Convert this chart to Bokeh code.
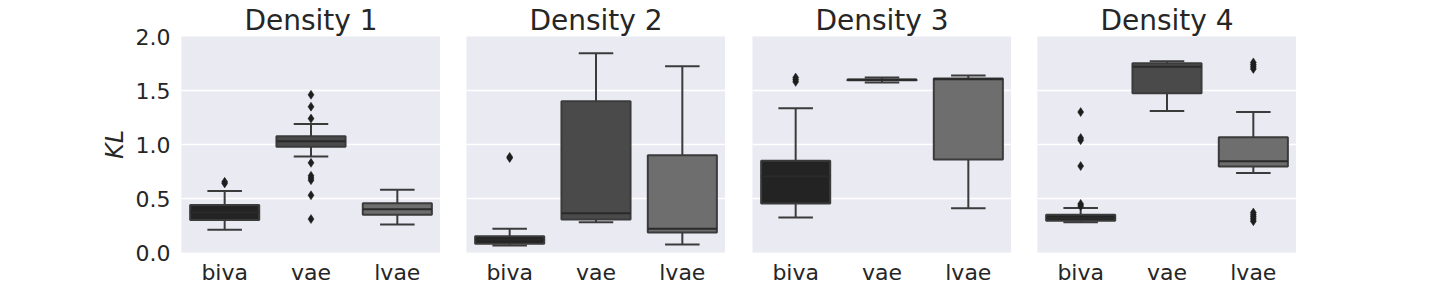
from bokeh.plotting import figure
from bokeh.layouts import row
from bokeh.models import Range1d, FixedTicker, ColumnDataSource
from bokeh.embed import file_html
from bokeh.resources import INLINE

# ---------------- data ----------------
categories = ["biva", "vae", "lvae"]
titles = ["Density 1", "Density 2", "Density 3", "Density 4"]
y_ticks = [0.0, 0.5, 1.0, 1.5, 2.0]
y_tick_labels = ["0.0", "0.5", "1.0", "1.5", "2.0"]

# box statistics per panel, per category (biva, vae, lvae)
q1 = [[0.30, 0.98, 0.35], [0.08, 0.305, 0.185], [0.454, 1.595, 0.861], [0.293, 1.475, 0.796]]
med = [[0.37, 1.03, 0.40], [0.117, 0.364, 0.22], [0.707, 1.600, 1.605], [0.32, 1.72, 0.845]]
q3 = [[0.44, 1.077, 0.456], [0.15, 1.40, 0.90], [0.85, 1.603, 1.611], [0.349, 1.753, 1.068]]
whis_lo = [[0.21, 0.89, 0.26], [0.065, 0.28, 0.074], [0.324, 1.575, 0.41], [0.28, 1.31, 0.735]]
whis_hi = [[0.57, 1.19, 0.58], [0.22, 1.845, 1.725], [1.336, 1.62, 1.64], [0.413, 1.77, 1.30]]
outliers = [
    [[0.64, 0.655], [1.46, 1.35, 1.24, 0.83, 0.71, 0.69, 0.67, 0.53, 0.31], []],
    [[0.875, 0.885], [], []],
    [[1.58, 1.60, 1.62], [], []],
    [[1.30, 1.04, 1.06, 0.80, 0.43, 0.45], [], [0.29, 0.31, 0.33, 0.35, 0.37, 1.70, 1.72, 1.74, 1.76]],
]

box_colors = ["#232323", "#4a4a4a", "#6e6e6e"]
line_color = "#3b3b3b"
text_color = "#262626"
bg = "#EAEAF2"

FRAME_W = 259
FRAME_H = 216
TOP = 36
BOTTOM = 36
left_borders = [181, 26, 27, 26]

figs = []
for i in range(4):
    lb = left_borders[i]
    p = figure(width=lb + FRAME_W, height=TOP + FRAME_H + BOTTOM,
               x_range=Range1d(0, 3), y_range=Range1d(0, 2),
               output_backend="svg", toolbar_location=None,
               min_border_left=lb, min_border_right=0,
               min_border_top=TOP, min_border_bottom=BOTTOM)
    p.background_fill_color = bg
    p.border_fill_color = "white"
    p.outline_line_color = None
    p.xgrid.visible = False
    p.ygrid.ticker = FixedTicker(ticks=y_ticks)
    p.ygrid.grid_line_color = "white"
    p.ygrid.grid_line_width = 1.4

    p.title.text = titles[i]
    p.title.align = "center"
    p.title.text_font = "DejaVu Sans"
    p.title.text_font_size = "28px"
    p.title.text_font_style = "normal"
    p.title.text_color = text_color
    p.title.standoff = 0

    xs = [k + 0.5 for k in range(len(categories))]
    p.xaxis.ticker = FixedTicker(ticks=xs)
    p.xaxis.major_label_overrides = {x: c for x, c in zip(xs, categories)}
    p.xaxis.axis_line_color = None
    p.xaxis.major_tick_line_color = None
    p.xaxis.major_tick_out = 0
    p.xaxis.major_tick_in = 0
    p.xaxis.minor_tick_line_color = None
    p.xaxis.major_label_text_font = "DejaVu Sans"
    p.xaxis.major_label_text_font_size = "22px"
    p.xaxis.major_label_text_color = text_color
    p.xaxis.major_label_standoff = 7

    if i == 0:
        p.yaxis.ticker = FixedTicker(ticks=y_ticks)
        p.yaxis.major_label_overrides = {t: s for t, s in zip(y_ticks, y_tick_labels)}
        p.yaxis.axis_line_color = None
        p.yaxis.major_tick_line_color = None
        p.yaxis.major_tick_out = 0
        p.yaxis.major_tick_in = 0
        p.yaxis.minor_tick_line_color = None
        p.yaxis.major_label_text_font = "DejaVu Sans"
        p.yaxis.major_label_text_font_size = "22px"
        p.yaxis.major_label_text_color = text_color
        p.yaxis.major_label_standoff = 11
        p.yaxis.axis_label = "KL"
        p.yaxis.axis_label_text_font = "DejaVu Sans"
        p.yaxis.axis_label_text_font_style = "italic"
        p.yaxis.axis_label_text_font_size = "24px"
        p.yaxis.axis_label_text_color = text_color
        p.yaxis.axis_label_standoff = 4
    else:
        p.yaxis.visible = False

    src = ColumnDataSource(dict(
        x=xs,
        q1=q1[i], med=med[i], q3=q3[i], lo=whis_lo[i], hi=whis_hi[i],
        color=box_colors,
        cl=[x - 0.2 for x in xs], cr=[x + 0.2 for x in xs],
        ml=[x - 0.4 for x in xs], mr=[x + 0.4 for x in xs],
    ))
    # whiskers
    p.segment(x0="x", y0="lo", x1="x", y1="q1", source=src, line_color=line_color, line_width=2)
    p.segment(x0="x", y0="q3", x1="x", y1="hi", source=src, line_color=line_color, line_width=2)
    # caps
    p.segment(x0="cl", y0="lo", x1="cr", y1="lo", source=src, line_color=line_color, line_width=2)
    p.segment(x0="cl", y0="hi", x1="cr", y1="hi", source=src, line_color=line_color, line_width=2)
    # boxes
    p.vbar(x="x", width=0.8, bottom="q1", top="q3", source=src,
           fill_color="color", line_color=line_color, line_width=2)
    # medians
    p.segment(x0="ml", y0="med", x1="mr", y1="med", source=src, line_color="#2a2a2a", line_width=2)

    ox, oy = [], []
    for k, vals in enumerate(outliers[i]):
        ox += [xs[k]] * len(vals)
        oy += vals
    p.scatter(x=ox, y=oy, marker="diamond", size=9, fill_color="#1e1e1e",
              line_color="#1e1e1e", line_width=0.5)
    figs.append(p)

layout = row(*figs, spacing=0)
open("out.html", "w").write(file_html(layout, INLINE))
